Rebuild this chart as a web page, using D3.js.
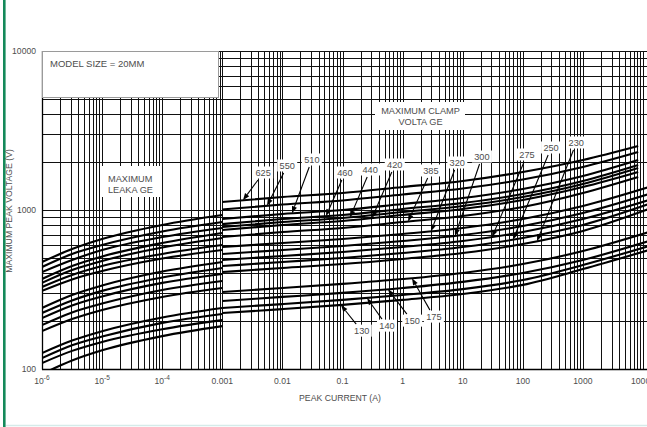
<!DOCTYPE html>
<html><head><meta charset="utf-8">
<script src="https://cdn.jsdelivr.net/npm/d3@7"></script>
<style>
html,body{margin:0;padding:0;background:#fff;}
svg{display:block;font-family:"Liberation Sans",Arial,Helvetica,sans-serif;}
</style></head><body>
<svg id="chart" width="647" height="427"></svg>
<script>
// ---------------- DATA ----------------
const ratings = [625,550,510,460,440,420,385,320,300,275,250,230,175,150,140,130];

// Maximum leakage region: current exponents (A = 10^e) and voltages (V)
const leakageExp = [-6,-5.5,-5,-4,-3];
const leakageVolts = [
  [471,568,657,805,930],   // 625
  [438,529,602,732,840],   // 550
  [407,485,560,676,771],   // 510
  [368,444,510,620,717],   // 460
  [348,419,478,581,667],   // 440
  [328,390,444,529,602],   // 420
  [310,366,413,495,560],   // 385
  [242,292,335,410,471],   // 320
  [225,270,310,376,432],   // 300
  [209,251,286,348,396],   // 275
  [189,227,258,314,358],   // 250
  [173,206,235,284,323],   // 230
  [126,151,173,211,242],   // 175
  [117,141,160,195,222],   // 150
  [109,130,148,178,203],   // 140
  [93,113,131,161,186]     // 130
];

// Maximum clamp region: current exponents, last point per curve in clampEndExp
const clampExp = [-3,-2,-1,0,1,2,3];
const clampEndExp = [3.92,3.92,3.92,3.92,3.92,3.92,3.92,4.1,4.1,4.1,4.1,4.1,4.1,4.1,4.1,4.1];
const clampVolts = [
  [1123,1207,1279,1395,1522,1734,2063,2527], // 625
  [1007,1083,1148,1252,1365,1555,1865,2317], // 550
  [878,944,1000,1091,1190,1356,1636,2063],   // 510
  [816,878,930,1015,1107,1261,1522,1919],    // 460
  [782,840,891,971,1060,1207,1457,1838],     // 440
  [749,805,853,930,1015,1156,1395,1734],     // 420
  [676,727,771,840,917,1044,1279,1613],      // 385
  [585,620,657,707,771,878,1060,1395],       // 320
  [529,560,594,638,696,793,958,1261],        // 300
  [485,514,544,585,638,727,878,1156],        // 275
  [444,471,499,536,585,667,805,1091],        // 250
  [407,432,457,492,536,611,738,1015],        // 230
  [305,323,343,368,402,457,552,727],         // 175
  [268,284,301,323,353,402,485,638],         // 150
  [242,256,272,292,318,363,451,594],         // 140
  [225,238,253,272,296,338,425,560]          // 130
];

// Curve label annotations (ordered as ratings)
const labelExp  = [-2.32,-1.92,-1.51,-0.96,-0.54,-0.13,0.47,0.91,1.32,2.07,2.47,2.89,0.52,0.16,-0.26,-0.68];
const labelVolt = [1709,1892,2063,1709,1785,1919,1760,1975,2154,2218,2455,2639,212,200,186,173];
const tipExp    = [-2.656,-2.256,-1.84,-1.275,-0.875,-0.509,0.09,0.473,0.872,1.488,1.837,2.236,0.156,-0.243,-0.592,-1.025];

// Axis ticks
const xTickExp  = [-6,-5,-4,-3,-2,-1,0,1,2,3,4];
const xTickBase = ["10","10","10","0.001","0.01","0.1","1","10","100","1000","10000"];
const xTickSup  = ["-6","-5","-4","","","","","","","",""];
const yTickVals = [100,1000,10000];
const yTickText = ["100","1000","10000"];

// ---------------- DRAW ----------------
const svg = d3.select('#chart');
const L = 42, R = 647, T = 51, B = 369;
const x = d3.scaleLog().domain([1e-6,1e4]).range([42,643]);
const y = d3.scaleLog().domain([100,10000]).range([B,T]);
const TXT = '#4d4d4d';

svg.append('rect').attr('width',647).attr('height',427).attr('fill','#fff');
// page decorations
svg.append('rect').attr('x',3).attr('y',0).attr('width',2.6).attr('height',427).attr('fill','#14895a');
svg.append('line').attr('x1',6).attr('x2',647).attr('y1',425.5).attr('y2',425.5).attr('stroke','#d5ebe9').attr('stroke-width',1.5);

const defs = svg.append('defs');
defs.append('clipPath').attr('id','plotclip').append('rect')
  .attr('x',L).attr('y',T-1).attr('width',R-L).attr('height',B-T+2);

// grid
const grid = svg.append('g').attr('shape-rendering','crispEdges');
const xGridVals = [];
for (let e=-6;e<4;e++) for (let m=1;m<10;m++) xGridVals.push(m*Math.pow(10,e));
xGridVals.push(1e4);
const yGridVals = [];
for (let e=2;e<4;e++) for (let m=1;m<10;m++) yGridVals.push(m*Math.pow(10,e));
yGridVals.push(1e4);
grid.selectAll('line.v').data(xGridVals).enter().append('line')
  .attr('x1',d=>Math.round(x(d))+0.5).attr('x2',d=>Math.round(x(d))+0.5)
  .attr('y1',T).attr('y2',B).attr('stroke','#111').attr('stroke-width',1);
grid.selectAll('line.h').data(yGridVals).enter().append('line')
  .attr('y1',d=>Math.round(y(d))+0.5).attr('y2',d=>Math.round(y(d))+0.5)
  .attr('x1',L).attr('x2',R).attr('stroke','#111').attr('stroke-width',1);
// axes lines
svg.append('line').attr('x1',L+0.5).attr('x2',L+0.5).attr('y1',T).attr('y2',B+0.5).attr('stroke','#000').attr('stroke-width',1.3);
svg.append('line').attr('x1',L).attr('x2',R).attr('y1',B+0.5).attr('y2',B+0.5).attr('stroke','#000').attr('stroke-width',1.3);

// curves
const line = d3.line().x(d=>x(Math.pow(10,d[0]))).y(d=>y(d[1])).curve(d3.curveMonotoneX);
const curves = svg.append('g').attr('clip-path','url(#plotclip)');
leakageVolts.forEach((vals,i)=>{
  curves.append('path').datum(vals.map((v,j)=>[leakageExp[j],v]))
    .attr('d',line).attr('fill','none').attr('stroke','#000').attr('stroke-width',2.1);
});
const clampNodes = [];
clampVolts.forEach((vals,i)=>{
  const ex = clampExp.concat([clampEndExp[i]]);
  const p = curves.append('path').datum(vals.map((v,j)=>[ex[j],v]))
    .attr('d',line).attr('fill','none').attr('stroke','#000').attr('stroke-width',2.1);
  clampNodes.push(p.node());
});

// text boxes
function box(x0,y0,w,h,stroke){
  svg.append('rect').attr('x',x0).attr('y',y0).attr('width',w).attr('height',h)
    .attr('fill','#fff').attr('stroke',stroke||'none').attr('stroke-width',1);
}
box(L+0.5,T+0.5,176,46,'#9a9a9a');
svg.append('text').attr('x',50).attr('y',66.5).attr('font-size',9.5).attr('fill',TXT).text('MODEL SIZE = 20MM');
box(102,166,58,31);
svg.append('text').attr('x',108).attr('y',181.5).attr('font-size',9.2).attr('fill',TXT).text('MAXIMUM');
svg.append('text').attr('x',108).attr('y',193).attr('font-size',9.2).attr('fill',TXT).text('LEAKA GE');
box(375,102,90,28);
svg.append('text').attr('x',420.5).attr('y',114).attr('font-size',9.2).attr('fill',TXT).attr('text-anchor','middle').text('MAXIMUM CLAMP');
svg.append('text').attr('x',420.5).attr('y',125).attr('font-size',9.2).attr('fill',TXT).attr('text-anchor','middle').text('VOLTA GE');

// annotations
function yOnPath(node, px){
  let lo=0, hi=node.getTotalLength(), p=node.getPointAtLength(0);
  for (let k=0;k<40;k++){
    const mid=(lo+hi)/2; p=node.getPointAtLength(mid);
    if (p.x<px) lo=mid; else hi=mid;
  }
  return p.y;
}
const ann = svg.append('g');
ratings.forEach((r,i)=>{
  const tx = x(Math.pow(10,tipExp[i]));
  const ty = yOnPath(clampNodes[i], tx);
  const lx = x(Math.pow(10,labelExp[i]));
  const ly = y(labelVolt[i]);
  let dx = tx-lx, dy = ty-ly;
  const len = Math.hypot(dx,dy);
  const ux = dx/len, uy = dy/len;
  const t = Math.min(10/Math.abs(dx||1e-9), 7/Math.abs(dy||1e-9));
  const sx = lx + dx*Math.min(t,1), sy = ly + dy*Math.min(t,1);
  const hl = 7, hw = 2.6;
  const bx = tx-ux*hl, by = ty-uy*hl;
  ann.append('line').attr('x1',sx).attr('y1',sy).attr('x2',bx).attr('y2',by)
    .attr('stroke','#000').attr('stroke-width',1.1);
  ann.append('path').attr('d',`M${tx},${ty}L${bx-uy*hw},${by+ux*hw}L${bx+uy*hw},${by-ux*hw}Z`).attr('fill','#000');
  ann.append('rect').attr('x',lx-10).attr('y',ly-6.5).attr('width',20).attr('height',12).attr('fill','#fff');
  ann.append('text').attr('x',lx).attr('y',ly+3.3).attr('text-anchor','middle')
    .attr('font-size',9.2).attr('fill',TXT).text(r);
});

// axis tick labels
const xt = svg.append('g').attr('font-size',8.6).attr('fill',TXT);
xTickExp.forEach((e,i)=>{
  const t = xt.append('text').attr('x',x(Math.pow(10,e))).attr('y',384).attr('text-anchor','middle');
  t.append('tspan').text(xTickBase[i]);
  if (xTickSup[i]) t.append('tspan').attr('dy',-4).attr('font-size',6.6).text(xTickSup[i]);
});
const yt = svg.append('g').attr('font-size',8.6).attr('fill',TXT);
yTickVals.forEach((v,i)=>{
  yt.append('text').attr('x',36).attr('y',y(v)+3).attr('text-anchor','end').text(yTickText[i]);
});
svg.append('text').attr('x',340).attr('y',401).attr('text-anchor','middle').attr('font-size',8.7).attr('fill',TXT).text('PEAK CURRENT (A)');
svg.append('text').attr('transform','translate(12,211) rotate(-90)').attr('text-anchor','middle')
  .attr('font-size',8.7).attr('fill',TXT).text('MAXIMUM PEAK VOLTAGE (V)');
</script>
</body></html>
